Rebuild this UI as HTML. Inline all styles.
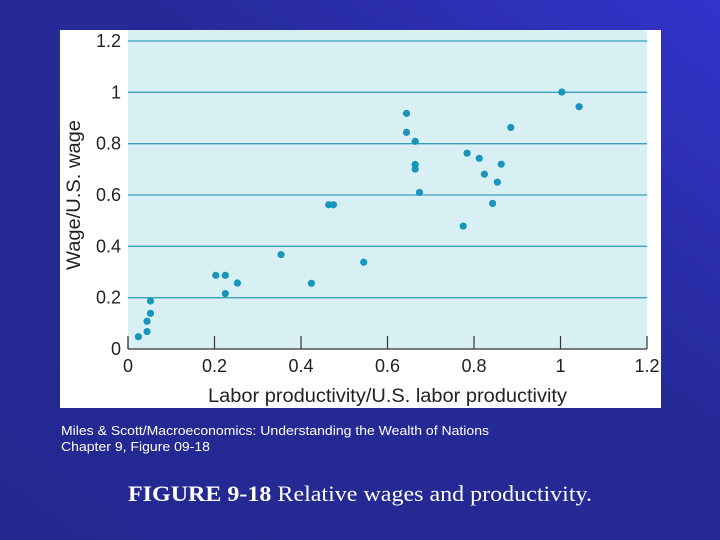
<!DOCTYPE html>
<html><head><meta charset="utf-8"><style>
html,body{margin:0;padding:0;width:720px;height:540px;overflow:hidden;background:#262a94}
svg{display:block}
text{font-family:"Liberation Sans",sans-serif}
</style></head><body>
<svg id="c" width="720" height="540" viewBox="0 0 720 540">
<defs>
<linearGradient id="bg" x1="0" y1="1" x2="1" y2="0">
<stop offset="0" stop-color="#232890"/><stop offset="0.6" stop-color="#262a98"/><stop offset="1" stop-color="#3333cc"/>
</linearGradient>
</defs>
<rect x="0" y="0" width="720" height="540" fill="url(#bg)"/>
<rect x="60" y="30" width="601" height="378" fill="#ffffff"/>
<rect x="128" y="30" width="519" height="319" fill="#d8f0f4"/>
<g id="grid"></g>
<g id="axes"></g>
<g id="pts"></g>
<text x="208" y="402" font-size="19" textLength="359" lengthAdjust="spacingAndGlyphs" fill="#222">Labor productivity/U.S. labor productivity</text>
<text transform="translate(80,270) rotate(-90)" font-size="19" textLength="150" lengthAdjust="spacingAndGlyphs" fill="#222">Wage/U.S. wage</text>
<text x="61" y="435" font-size="13" textLength="428" lengthAdjust="spacingAndGlyphs" fill="#fff">Miles &amp; Scott/Macroeconomics: Understanding the Wealth of Nations</text>
<text x="61" y="451" font-size="13" textLength="149" lengthAdjust="spacingAndGlyphs" fill="#fff">Chapter 9, Figure 09-18</text>
<text x="128" y="501" font-size="22" textLength="464" lengthAdjust="spacingAndGlyphs" fill="#fff" style="font-family:'Liberation Serif',serif"><tspan font-weight="bold">FIGURE 9-18</tspan> Relative wages and productivity.</text>
</svg>
<script>
const xs=[0.024,0.044,0.044,0.052,0.052,0.203,0.225,0.225,0.253,0.354,0.424,0.464,0.475,0.545,0.644,0.644,0.664,0.664,0.664,0.674,0.775,0.784,0.812,0.824,0.863,0.854,0.843,0.885,1.003,1.043];
const ys=[0.048,0.068,0.108,0.139,0.187,0.287,0.287,0.216,0.257,0.368,0.256,0.562,0.562,0.338,0.918,0.844,0.809,0.719,0.701,0.610,0.479,0.763,0.743,0.681,0.720,0.650,0.567,0.863,1.001,0.944];
const xTicks=["0","0.2","0.4","0.6","0.8","1","1.2"];
const yTicks=["0","0.2","0.4","0.6","0.8","1","1.2"];
const NS="http://www.w3.org/2000/svg";
const X=v=>128+v*(519/1.2);
const Y=v=>349-v*(308/1.2);
function mk(t,a,p){const e=document.createElementNS(NS,t);for(const k in a)e.setAttribute(k,a[k]);p.appendChild(e);return e;}
const grid=document.getElementById('grid'),axes=document.getElementById('axes'),pts=document.getElementById('pts');
yTicks.forEach(t=>{const v=parseFloat(t);
 if(v>0){const l=mk('line',{x1:128,x2:647,y1:Y(v),y2:Y(v),stroke:'#3a9fb8','stroke-width':1.3},grid);
 
 }
 const tx=mk('text',{x:121,y:Y(v)+6,'font-size':18,'text-anchor':'end',fill:'#222'},axes);tx.textContent=t;
 
 
});
const ax=mk('line',{x1:128,x2:647,y1:349,y2:349,stroke:'#333','stroke-width':1.2},axes);


const ay=mk('line',{x1:128,x2:128,y1:338,y2:349,stroke:'#333','stroke-width':1.2},axes);


xTicks.forEach(t=>{const v=parseFloat(t);
 const tk=mk('line',{x1:X(v),x2:X(v),y1:336,y2:349,stroke:'#333','stroke-width':1.2},axes);
 
 
 const tx=mk('text',{x:X(v),y:372,'font-size':18,'text-anchor':'middle',fill:'#222'},axes);tx.textContent=t;
 
 
});
xs.forEach((x,i)=>{const c=mk('circle',{cx:X(x),cy:Y(ys[i]),r:3.6,fill:'#1995bb'},pts);
 
 
});
</script>
</body></html>
